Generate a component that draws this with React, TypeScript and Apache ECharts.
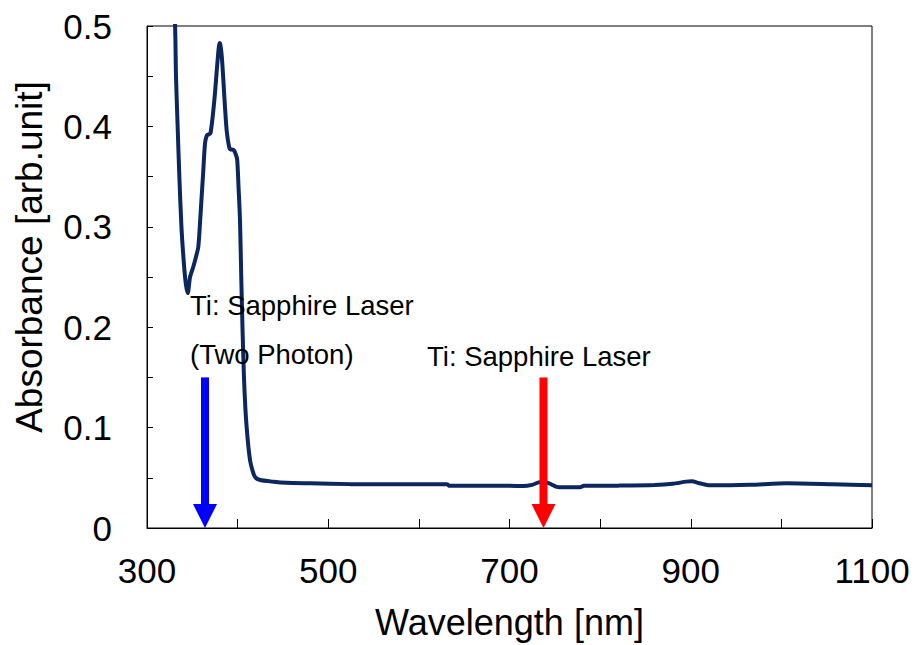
import React, { useEffect, useRef } from "react";
import * as echarts from "echarts";

const wavelengths = [
  328, 331, 332, 333.8, 335.7, 338, 341, 343, 345, 347.5, 351, 354, 356.6,
  358.5, 360.3, 362, 364, 366, 368, 370, 372.5, 375, 377, 379, 380, 381, 382.5, 384,
  386, 388, 390.5, 392, 394, 396, 398, 399.5, 401, 402.6, 404, 405.5, 407, 408.5, 410,
  412, 414, 416.5, 419, 424, 440, 454, 480, 524, 600, 631, 634, 700, 715, 725, 733,
  740, 746, 752, 760, 778, 782, 820, 860, 880, 895, 901, 910, 921, 965, 1006, 1057, 1100,
];
const absorbance = [
  0.56, 0.5, 0.45, 0.4, 0.35, 0.3, 0.26, 0.242, 0.234, 0.25, 0.26, 0.27, 0.28,
  0.304, 0.33, 0.354, 0.383, 0.391, 0.392, 0.393, 0.41, 0.433, 0.456, 0.477, 0.483, 0.481, 0.47, 0.45,
  0.42, 0.395, 0.38, 0.377, 0.377, 0.376, 0.372, 0.367, 0.34, 0.307, 0.25, 0.195, 0.15, 0.12, 0.1,
  0.08, 0.066, 0.057, 0.051, 0.048, 0.046, 0.045, 0.0445, 0.0437, 0.0435, 0.0435, 0.042, 0.042, 0.0418, 0.043, 0.0455,
  0.0455, 0.0435, 0.041, 0.0405, 0.0405, 0.042, 0.0422, 0.0428, 0.044, 0.0462, 0.0465, 0.0445, 0.0425, 0.043, 0.0445, 0.0435, 0.0425,
];

const arrowWavelengths = [364, 737.5];
const arrowColors = ["#0000FF", "#FF0000"];
const arrowTop = 0.15;
const arrowTip = 0;

const xTicks = { min: 300, max: 1100, interval: 100 };
const yTicks = { min: 0, max: 0.5, interval: 0.1 };

const annotationTexts = ["Ti: Sapphire Laser", "(Two Photon)", "Ti: Sapphire Laser"];

const FONT = "'Liberation Sans', Arial, sans-serif";

export default function App() {
  const ref = useRef<HTMLDivElement>(null);
  useEffect(() => {
    document.body.style.margin = "0";
    const chart = echarts.init(ref.current!, null, { renderer: "svg" });
    const lineData = wavelengths.map((w, i) => [w, absorbance[i]]);
    chart.setOption({
      animation: false,
      backgroundColor: "#ffffff",
      grid: {
        left: 147,
        right: 44,
        top: 26,
        bottom: 117,
        show: true,
        borderColor: "#000",
        borderWidth: 1,
        backgroundColor: "transparent",
      },
      xAxis: {
        type: "value",
        min: xTicks.min,
        max: xTicks.max,
        interval: xTicks.interval,
        name: "Wavelength [nm]",
        nameLocation: "middle",
        nameGap: 76,
        nameTextStyle: { fontFamily: FONT, fontSize: 36, color: "#000", lineHeight: 36 },
        axisLine: { lineStyle: { color: "#000", width: 1 } },
        axisTick: { inside: true, length: 9, lineStyle: { color: "#000" } },
        axisLabel: {
          fontFamily: FONT,
          fontSize: 35,
          color: "#000",
          margin: 25,
          lineHeight: 35,
          formatter: (v: number) => ((v - xTicks.min) % 200 === 0 ? String(v) : ""),
        },
        splitLine: { show: false },
      },
      yAxis: {
        type: "value",
        min: yTicks.min,
        max: yTicks.max,
        interval: yTicks.interval,
        name: "Absorbance [arb.unit]",
        nameLocation: "middle",
        nameGap: 99,
        nameTextStyle: {
          fontFamily: FONT,
          fontSize: 37,
          color: "#000",
          lineHeight: 37,
          padding: [0, 0, 0, 40],
        },
        axisLine: { show: true, lineStyle: { color: "#000", width: 1 } },
        axisTick: { inside: true, length: 6, lineStyle: { color: "#000" } },
        minorTick: { show: true, splitNumber: 2, length: 6, lineStyle: { color: "#000" } },
        axisLabel: {
          fontFamily: FONT,
          fontSize: 35,
          color: "#000",
          margin: 35,
          formatter: (v: number) => (v === 0 ? "0" : v.toFixed(1)),
        },
        splitLine: { show: false },
      },
      graphic: [
        {
          type: "text",
          x: 190,
          y: 305,
          style: { text: annotationTexts[0], font: `27.5px ${FONT}`, fill: "#000", textVerticalAlign: "middle" },
          z: 100,
        },
        {
          type: "text",
          x: 190,
          y: 354,
          style: { text: annotationTexts[1], font: `27.5px ${FONT}`, fill: "#000", textVerticalAlign: "middle" },
          z: 100,
        },
        {
          type: "text",
          x: 427,
          y: 356,
          style: { text: annotationTexts[2], font: `27.5px ${FONT}`, fill: "#000", textVerticalAlign: "middle" },
          z: 100,
        },
      ],
      series: [
        {
          type: "line",
          data: lineData,
          showSymbol: false,
          smooth: 0.25,
          clip: true,
          lineStyle: { color: "#0C2660", width: 4 },
          z: 3,
        },
        {
          type: "custom",
          z: 5,
          clip: false,
          data: arrowWavelengths.map((w) => [w, arrowTop, arrowTip]),
          renderItem: (params: any, api: any) => {
            const x = api.value(0);
            const top = api.coord([x, api.value(1)]);
            const tip = api.coord([x, api.value(2)]);
            const color = arrowColors[params.dataIndex];
            const headH = 24;
            const headW = 24;
            const shaftW = 8;
            return {
              type: "group",
              children: [
                {
                  type: "rect",
                  shape: { x: top[0] - shaftW / 2, y: top[1], width: shaftW, height: tip[1] - headH - top[1] + 1 },
                  style: { fill: color },
                },
                {
                  type: "polygon",
                  shape: {
                    points: [
                      [tip[0] - headW / 2, tip[1] - headH],
                      [tip[0] + headW / 2, tip[1] - headH],
                      [tip[0], tip[1]],
                    ],
                  },
                  style: { fill: color },
                },
              ],
            };
          },
        },
      ],
    });
    return () => chart.dispose();
  }, []);
  return <div ref={ref} style={{ width: 916, height: 645 }} />;
}
